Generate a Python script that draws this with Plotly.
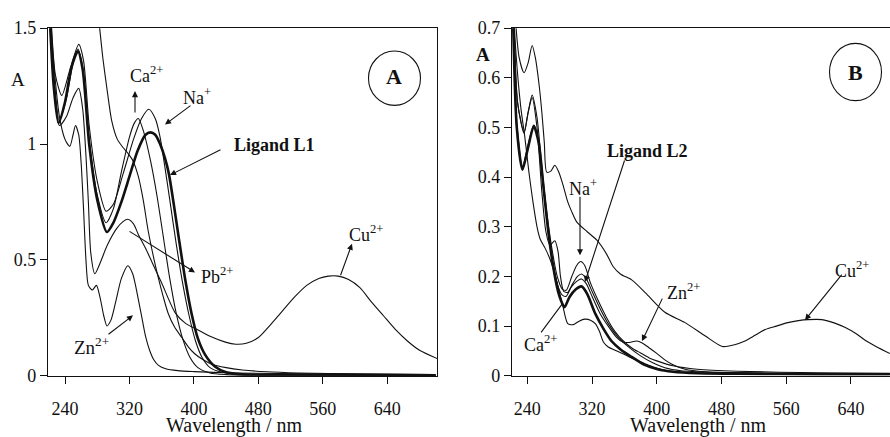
import plotly.graph_objects as go

# ---------------- Panel A data (wavelength nm, absorbance) ----------------
a_l1_wl = [221, 226, 232, 240, 248, 256, 262, 270, 280, 292, 300, 310, 320, 330, 340, 346, 352, 358, 364, 369, 375, 381, 389, 397, 405, 414, 426, 440, 460, 500, 700]
a_l1_ab = [1.55, 1.25, 1.09, 1.18, 1.33, 1.40, 1.32, 1.00, 0.76, 0.62, 0.66, 0.75, 0.86, 0.97, 1.04, 1.05, 1.04, 1.00, 0.94, 0.87, 0.74, 0.60, 0.42, 0.27, 0.16, 0.09, 0.04, 0.015, 0.006, 0.003, 0.001]

a_na_wl = [222, 228, 236, 246, 257, 263, 270, 280, 291, 300, 312, 325, 335, 344, 352, 358, 364, 370, 378, 386, 394, 402, 410, 420, 435, 460, 520, 700]
a_na_ab = [1.60, 1.30, 1.21, 1.32, 1.43, 1.36, 1.08, 0.84, 0.71, 0.74, 0.87, 1.02, 1.11, 1.15, 1.11, 1.03, 0.90, 0.76, 0.57, 0.40, 0.26, 0.15, 0.08, 0.035, 0.015, 0.006, 0.003, 0.001]

a_ca_wl = [221, 226, 233, 242, 250, 256, 262, 270, 280, 291, 300, 310, 320, 326, 331, 337, 346, 354, 362, 370, 378, 386, 395, 405, 420, 440, 480, 700]
a_ca_ab = [1.60, 1.30, 1.10, 1.20, 1.35, 1.41, 1.33, 1.02, 0.78, 0.66, 0.72, 0.88, 1.03, 1.09, 1.11, 1.06, 0.93, 0.78, 0.60, 0.42, 0.27, 0.16, 0.08, 0.035, 0.012, 0.005, 0.002, 0.001]

a_cu_wl = [221, 226, 233, 242, 250, 257, 262, 266, 269, 272, 277, 284, 292, 304, 312, 318, 325, 331, 340, 348, 360, 377, 390, 401, 420, 439, 452, 465, 480, 495, 510, 525, 540, 555, 567, 579, 592, 606, 620, 635, 650, 665, 680, 702]
a_cu_ab = [1.60, 1.30, 1.08, 1.12, 1.20, 1.24, 1.15, 0.95, 0.75, 0.53, 0.44, 0.49, 0.56, 0.635, 0.665, 0.675, 0.655, 0.61, 0.55, 0.49, 0.40, 0.27, 0.225, 0.205, 0.17, 0.145, 0.136, 0.14, 0.165, 0.22, 0.28, 0.34, 0.39, 0.42, 0.43, 0.43, 0.415, 0.38, 0.32, 0.26, 0.20, 0.15, 0.11, 0.074]

a_pb_wl = [272, 278, 283, 287, 292, 298, 305, 312, 318, 324, 331, 337, 343, 350, 356, 362, 368, 376, 385, 393, 401, 411, 422, 440, 460, 490, 530, 600, 700]
a_pb_ab = [1.90, 1.65, 1.50, 1.37, 1.24, 1.10, 1.02, 0.985, 0.96, 0.93, 0.86, 0.76, 0.63, 0.51, 0.42, 0.34, 0.27, 0.21, 0.165, 0.125, 0.095, 0.07, 0.05, 0.035, 0.025, 0.017, 0.012, 0.008, 0.005]

a_zn_wl = [221, 226, 233, 240, 246, 250, 253, 257, 260, 263, 266, 269, 274, 279, 284, 288, 292, 297, 303, 310, 318, 324, 331, 336, 340, 345, 350, 356, 365, 380, 400, 450, 550, 700]
a_zn_ab = [1.60, 1.35, 1.12, 1.02, 0.99, 1.04, 1.08, 1.04, 0.92, 0.72, 0.50, 0.39, 0.37, 0.39, 0.33, 0.26, 0.215, 0.24, 0.32, 0.42, 0.475, 0.44, 0.33, 0.24, 0.17, 0.11, 0.07, 0.045, 0.03, 0.022, 0.018, 0.012, 0.008, 0.005]

# ---------------- Panel B data ----------------
b_l2_wl = [222, 227, 234, 241, 248, 254, 260, 266, 272, 278, 282, 286, 292, 300, 307, 314, 324, 334, 344, 356, 369, 385, 401, 420, 450, 500, 600, 688]
b_l2_ab = [0.75, 0.50, 0.415, 0.46, 0.503, 0.47, 0.38, 0.29, 0.22, 0.17, 0.15, 0.138, 0.158, 0.174, 0.18, 0.165, 0.125, 0.095, 0.07, 0.052, 0.038, 0.022, 0.013, 0.008, 0.005, 0.004, 0.003, 0.003]

b_na_wl = [223, 228, 236, 241, 246, 252, 258, 264, 270, 277, 283, 288, 295, 301, 306, 311, 318, 328, 338, 348, 358, 370, 380, 392, 400, 420, 450, 500, 600, 688]
b_na_ab = [0.75, 0.55, 0.488, 0.53, 0.565, 0.52, 0.42, 0.33, 0.26, 0.20, 0.175, 0.172, 0.20, 0.222, 0.23, 0.222, 0.187, 0.15, 0.117, 0.09, 0.071, 0.055, 0.046, 0.035, 0.03, 0.02, 0.013, 0.009, 0.006, 0.005]

b_ca_wl = [223, 228, 236, 241, 246, 252, 258, 263, 268, 274, 278, 281, 285, 290, 296, 302, 307, 313, 320, 330, 340, 352, 365, 380, 395, 410, 430, 470, 550, 688]
b_ca_ab = [0.75, 0.55, 0.49, 0.53, 0.56, 0.50, 0.37, 0.29, 0.263, 0.272, 0.25, 0.20, 0.17, 0.168, 0.185, 0.20, 0.205, 0.195, 0.17, 0.135, 0.105, 0.078, 0.058, 0.04, 0.026, 0.016, 0.01, 0.007, 0.005, 0.004]

b_zn_wl = [222, 227, 234, 241, 248, 254, 260, 266, 272, 278, 283, 288, 294, 301, 307, 313, 320, 330, 340, 350, 358, 366, 375, 382, 390, 400, 410, 420, 435, 460, 520, 600, 688]
b_zn_ab = [0.75, 0.51, 0.42, 0.465, 0.505, 0.47, 0.38, 0.29, 0.225, 0.18, 0.163, 0.16, 0.178, 0.19, 0.195, 0.185, 0.16, 0.125, 0.10, 0.078, 0.068, 0.067, 0.07, 0.066, 0.057, 0.045, 0.032, 0.022, 0.013, 0.008, 0.005, 0.004, 0.003]

b_pb_wl = [221, 226, 232, 237, 242, 247, 252, 256, 262, 268, 273, 278, 284, 290, 297, 304, 311, 318, 324, 329, 334, 340, 348, 356, 366, 380, 395, 410, 430, 470, 550, 688]
b_pb_ab = [0.80, 0.65, 0.54, 0.48, 0.41, 0.35, 0.30, 0.275, 0.257, 0.235, 0.21, 0.18, 0.14, 0.105, 0.103, 0.11, 0.114, 0.112, 0.105, 0.09, 0.068, 0.058, 0.052, 0.046, 0.038, 0.028, 0.018, 0.011, 0.007, 0.005, 0.004, 0.003]

b_cu_wl = [224, 230, 236, 241, 246, 250, 255, 258, 261, 264, 269, 274, 279, 284, 290, 295, 301, 314, 326, 338, 346, 355, 369, 386, 410, 435, 460, 481, 495, 509, 522, 534, 548, 562, 575, 587, 604, 620, 633, 646, 658, 672, 688]
b_cu_ab = [0.75, 0.64, 0.61, 0.63, 0.665, 0.64, 0.58, 0.53, 0.47, 0.41, 0.412, 0.424, 0.41, 0.385, 0.35, 0.33, 0.31, 0.29, 0.273, 0.245, 0.22, 0.205, 0.193, 0.167, 0.128, 0.107, 0.08, 0.059, 0.062, 0.07, 0.082, 0.093, 0.10, 0.107, 0.111, 0.113, 0.113, 0.106, 0.097, 0.085, 0.071, 0.058, 0.045]

x_tick_vals = [240, 320, 400, 480, 560, 640]

# ---------------- layout geometry (pixels of the 890x437 page) ----------------
W, H = 890, 437
FONT = "Liberation Serif"
INK = "#111111"

def px(x):
    return x / W

def py(y):
    return (H - y) / H

ydom = [py(383.3), py(19)]
A_dom = [px(48), px(437)]
B_dom = [px(512), 1.0]

fig = go.Figure()

thin = dict(color=INK, width=1.1, shape="spline", smoothing=0.7)
thick = dict(color=INK, width=2.6, shape="spline", smoothing=0.7)

seriesA = [(a_pb_wl, a_pb_ab, thin), (a_cu_wl, a_cu_ab, thin), (a_zn_wl, a_zn_ab, thin),
           (a_ca_wl, a_ca_ab, thin), (a_na_wl, a_na_ab, thin), (a_l1_wl, a_l1_ab, thick)]
for wl, ab, ln in seriesA:
    fig.add_trace(go.Scatter(x=wl, y=ab, mode="lines", line=ln, xaxis="x", yaxis="y",
                             showlegend=False, hoverinfo="skip"))

seriesB = [(b_cu_wl, b_cu_ab, thin), (b_pb_wl, b_pb_ab, thin), (b_zn_wl, b_zn_ab, thin),
           (b_ca_wl, b_ca_ab, thin), (b_na_wl, b_na_ab, thin), (b_l2_wl, b_l2_ab, thick)]
for wl, ab, ln in seriesB:
    fig.add_trace(go.Scatter(x=wl, y=ab, mode="lines", line=ln, xaxis="x2", yaxis="y2",
                             showlegend=False, hoverinfo="skip"))

axis_common = dict(showgrid=False, zeroline=False, linecolor=INK, linewidth=1.2,
                   ticks="outside", ticklen=7, tickwidth=1, tickcolor=INK,
                   tickfont=dict(family=FONT, size=18, color=INK), showline=True)

fig.update_layout(
    width=W, height=H, margin=dict(l=0, r=0, t=0, b=0, pad=0),
    paper_bgcolor="white", plot_bgcolor="white",
    xaxis=dict(domain=A_dom, range=[218.9, 701.7], tickvals=x_tick_vals, mirror=True,
               anchor="y", ticklabelstandoff=10, **axis_common),
    yaxis=dict(domain=ydom, range=[0, 1.5], tickvals=[0, 0.5, 1, 1.5],
               ticktext=["0", "0.5", "1", "1.5"], mirror=True, anchor="x", **axis_common),
    xaxis2=dict(domain=B_dom, range=[221.1, 688.2], tickvals=x_tick_vals, mirror=True,
                anchor="y2", ticklabelstandoff=10, **axis_common),
    yaxis2=dict(domain=ydom, range=[0, 0.7], tickvals=[0, 0.1, 0.2, 0.3, 0.4, 0.5, 0.6, 0.7],
                ticktext=["0", "0.1", "0.2", "0.3", "0.4", "0.5", "0.6", "0.7"],
                mirror=False, anchor="x2", **axis_common),
)

annotations = []

def label(text, x, y, size=18, bold=False):
    if bold:
        text = "<b>" + text + "</b>"
    annotations.append(dict(text=text, x=px(x), y=py(y), xref="paper", yref="paper",
                            showarrow=False, xanchor="center", yanchor="middle",
                            font=dict(family=FONT, size=size, color=INK)))

def arrow(tail, head, head_style=2):
    annotations.append(dict(text="", x=px(head[0]), y=py(head[1]), xref="paper", yref="paper",
                            ax=tail[0] - head[0], ay=tail[1] - head[1], axref="pixel", ayref="pixel",
                            showarrow=True, arrowhead=head_style, arrowsize=1.1, arrowwidth=1.1,
                            arrowcolor=INK, standoff=0, startstandoff=0))

# axis titles
label("Wavelength / nm", 234, 435, size=20)
label("Wavelength / nm", 698, 435, size=20)
label("A", 17.5, 73, size=19)
label("A", 483, 47, size=19, bold=True)

# panel A labels
label("Ca<sup>2+</sup>", 146, 68)
arrow((135, 108), (135, 85))
label("Na<sup>+</sup>", 197, 91)
arrow((192, 100), (165, 120))
label("Ligand L1", 274, 141, bold=True)
arrow((222, 147), (170, 173))
label("Pb<sup>2+</sup>", 217, 278)
arrow((128, 233), (195, 275))
label("Zn<sup>2+</sup>", 91, 352, size=19)
arrow((107, 340), (133, 320))
label("Cu<sup>2+</sup>", 366, 234)
arrow((340, 278), (352, 245))
label("A", 394, 70, size=22, bold=True)

# panel B labels
label("Ligand L2", 647, 148, bold=True)
arrow((625, 162), (585, 285))
label("Na<sup>+</sup>", 583, 186)
arrow((580, 197), (580, 257))
label("Ca<sup>2+</sup>", 540, 350)
arrow((540, 338), (563, 307), head_style=0)
label("Zn<sup>2+</sup>", 683, 295)
arrow((663, 303), (642, 347))
label("Cu<sup>2+</sup>", 852, 272)
arrow((843, 278), (805, 325))
label("B", 855.5, 65, size=22, bold=True)

fig.update_layout(annotations=annotations)

shapes = [
    dict(type="circle", xref="paper", yref="paper", x0=px(368.5), x1=px(420.5),
         y0=py(100), y1=py(43), line=dict(color=INK, width=1.1)),
    dict(type="circle", xref="paper", yref="paper", x0=px(829.5), x1=px(881.5),
         y0=py(95), y1=py(35), line=dict(color=INK, width=1.1)),
]
fig.update_layout(shapes=shapes)

fig.write_html("out.html")
